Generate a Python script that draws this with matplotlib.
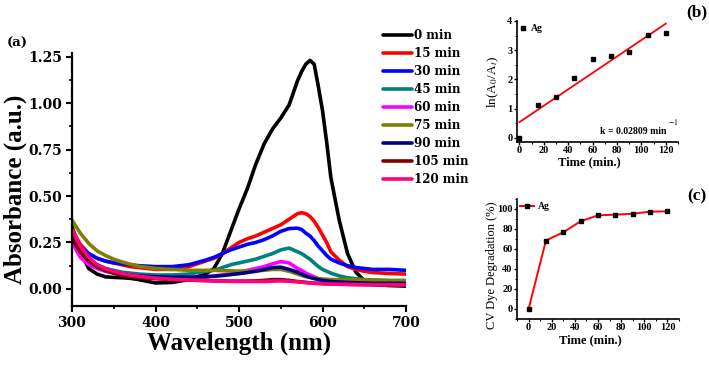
import numpy as np
import matplotlib
matplotlib.use("Agg")
import matplotlib.pyplot as plt
from matplotlib.ticker import MultipleLocator

# ==============================
# DATA
# ==============================
wavelength = [300, 310, 320, 330, 340, 350, 360, 370, 380, 400, 420, 440, 460, 470, 480,
              490, 500, 510, 520, 530, 540, 550, 560, 570, 575, 580, 585, 590, 595, 600,
              605, 610, 620, 630, 640, 650, 660, 680, 700]

abs_0 = [0.335, 0.20, 0.11, 0.08, 0.065, 0.062, 0.06, 0.057, 0.05, 0.032, 0.035, 0.05, 0.08, 0.11, 0.19,
         0.31, 0.43, 0.54, 0.67, 0.78, 0.86, 0.92, 0.99, 1.12, 1.17, 1.21, 1.23, 1.21, 1.09, 0.96,
         0.79, 0.60, 0.37, 0.19, 0.09, 0.045, 0.025, 0.018, 0.015]
abs_15 = [0.32, 0.24, 0.19, 0.165, 0.15, 0.14, 0.13, 0.12, 0.115, 0.105, 0.105, 0.12, 0.15, 0.165, 0.19,
          0.22, 0.25, 0.27, 0.285, 0.305, 0.325, 0.345, 0.375, 0.405, 0.41, 0.405, 0.39, 0.365, 0.33, 0.29,
          0.25, 0.20, 0.155, 0.12, 0.105, 0.095, 0.088, 0.083, 0.08]
abs_30 = [0.29, 0.23, 0.19, 0.165, 0.15, 0.14, 0.135, 0.13, 0.125, 0.12, 0.12, 0.13, 0.155, 0.17, 0.19,
          0.21, 0.225, 0.24, 0.25, 0.265, 0.285, 0.31, 0.325, 0.327, 0.32, 0.30, 0.285, 0.26, 0.23, 0.205,
          0.18, 0.16, 0.14, 0.125, 0.115, 0.11, 0.105, 0.105, 0.10]
abs_45 = [0.30, 0.21, 0.16, 0.13, 0.11, 0.10, 0.09, 0.085, 0.08, 0.075, 0.075, 0.08, 0.095, 0.10, 0.115,
          0.13, 0.14, 0.15, 0.16, 0.175, 0.19, 0.21, 0.22, 0.20, 0.19, 0.175, 0.16, 0.14, 0.12, 0.105,
          0.095, 0.085, 0.07, 0.06, 0.055, 0.05, 0.048, 0.045, 0.045]
abs_60 = [0.25, 0.17, 0.13, 0.11, 0.095, 0.085, 0.075, 0.07, 0.065, 0.06, 0.06, 0.06, 0.065, 0.07, 0.075,
          0.08, 0.09, 0.10, 0.11, 0.12, 0.135, 0.147, 0.14, 0.11, 0.10, 0.085, 0.075, 0.065, 0.055, 0.05,
          0.045, 0.04, 0.035, 0.032, 0.03, 0.03, 0.03, 0.03, 0.03]
abs_75 = [0.37, 0.30, 0.245, 0.205, 0.18, 0.16, 0.145, 0.133, 0.122, 0.11, 0.105, 0.10, 0.10, 0.10, 0.098,
          0.097, 0.096, 0.096, 0.097, 0.10, 0.105, 0.105, 0.095, 0.08, 0.072, 0.066, 0.062, 0.058, 0.055, 0.053,
          0.052, 0.05, 0.05, 0.05, 0.05, 0.048, 0.047, 0.045, 0.045]
abs_90 = [0.27, 0.20, 0.15, 0.12, 0.10, 0.09, 0.08, 0.075, 0.07, 0.065, 0.063, 0.063, 0.065, 0.068, 0.072,
          0.077, 0.082, 0.088, 0.095, 0.105, 0.115, 0.117, 0.105, 0.09, 0.08, 0.07, 0.062, 0.056, 0.05, 0.046,
          0.043, 0.04, 0.037, 0.035, 0.033, 0.032, 0.03, 0.03, 0.03]
abs_105 = [0.28, 0.20, 0.15, 0.12, 0.10, 0.085, 0.075, 0.068, 0.062, 0.055, 0.05, 0.047, 0.045, 0.044, 0.043,
           0.042, 0.042, 0.042, 0.043, 0.046, 0.05, 0.05, 0.046, 0.04, 0.038, 0.035, 0.033, 0.031, 0.03, 0.029,
           0.028, 0.027, 0.026, 0.025, 0.024, 0.023, 0.022, 0.02, 0.02]
abs_120 = [0.32, 0.23, 0.17, 0.13, 0.11, 0.095, 0.083, 0.075, 0.068, 0.058, 0.052, 0.048, 0.045, 0.043, 0.042,
           0.041, 0.04, 0.04, 0.04, 0.04, 0.042, 0.043, 0.041, 0.038, 0.036, 0.034, 0.032, 0.03, 0.029, 0.028,
           0.027, 0.026, 0.025, 0.024, 0.023, 0.023, 0.022, 0.022, 0.022]

series_labels = ["0 min", "15 min", "30 min", "45 min", "60 min",
                 "75 min", "90 min", "105 min", "120 min"]
series_colors = ["#000000", "#ff0000", "#0000ff", "#008080", "#ff00ff",
                 "#808000", "#000080", "#800000", "#ff0080"]
spectra = [abs_0, abs_15, abs_30, abs_45, abs_60, abs_75, abs_90, abs_105, abs_120]

time_min = [0, 15, 30, 45, 60, 75, 90, 105, 120]
ln_ratio = [0.0, 1.12, 1.41, 2.05, 2.69, 2.80, 2.94, 3.53, 3.58]
fit_time = [0, 120]
fit_ln = [0.54, 3.91]
degradation = [0.0, 68.5, 76.7, 87.7, 93.7, 94.3, 95.3, 97.3, 97.7]

# ==============================
# FIGURE
# ==============================
W, H = 709, 365
fig = plt.figure(figsize=(W / 100, H / 100), dpi=100)
plt.rcParams["mathtext.fontset"] = "stix"

serif_a = "DejaVu Serif"
serif_b = "Liberation Serif"


def px_axes(l, t, r, b):
    return fig.add_axes([l / W, 1 - b / H, (r - l) / W, (b - t) / H])


# ---------- (a) spectra ----------
ax = px_axes(72, 53, 406, 306)
for y, c, lab in zip(spectra, series_colors, series_labels):
    ax.plot(wavelength, y, color=c, lw=2.6, label=lab, solid_capstyle="round")

ax.set_xlim(300, 700)
ax.set_ylim(-0.092, 1.27)
ax.xaxis.set_major_locator(MultipleLocator(100))
ax.xaxis.set_minor_locator(MultipleLocator(50))
ax.yaxis.set_major_locator(MultipleLocator(0.25))
ax.yaxis.set_minor_locator(MultipleLocator(0.125))
ax.set_yticks([0, 0.25, 0.5, 0.75, 1.0, 1.25])
ax.set_yticklabels(["0.00", "0.25", "0.50", "0.75", "1.00", "1.25"])
for s in ["top", "right"]:
    ax.spines[s].set_visible(False)
for s in ["left", "bottom"]:
    ax.spines[s].set_linewidth(1.6)
ax.tick_params(which="major", direction="out", length=4, width=1.5, labelsize=10, pad=3)
ax.tick_params(which="minor", direction="out", length=2.5, width=1.2)
for t in ax.get_xticklabels() + ax.get_yticklabels():
    t.set_fontfamily(serif_a)
    t.set_fontweight("bold")
ax.set_xlabel("Wavelength (nm)", fontsize=18, fontweight="bold", family=serif_b)
ax.set_ylabel("Absorbance (a.u.)", fontsize=18, fontweight="bold", family=serif_b)
ax.xaxis.set_label_coords(0.5, -0.1)
ax.yaxis.set_label_coords(-0.135, 0.462)

ax.legend(loc="upper left", bbox_to_anchor=(377 / W, 1 - 23 / H), bbox_transform=fig.transFigure,
          frameon=False, borderpad=0, handlelength=2.45, handletextpad=0.15, labelspacing=0.42,
          prop={"family": serif_a, "weight": "bold", "size": 8.6})

fig.text(17 / W, 1 - 43 / H, "(a)", ha="center", va="center", fontsize=9.5,
         fontweight="bold", family=serif_a)

# ---------- (b) kinetics ----------
axb = px_axes(517, 21, 678, 142)
axb.plot(fit_time, fit_ln, color="#ff0000", lw=1.3, zorder=1)
axb.plot(time_min, ln_ratio, ls="none", marker="s", ms=3.2, color="black", label="Ag", zorder=2)
axb.set_xlim(-2, 130)
axb.set_ylim(-0.14, 4.0)
axb.xaxis.set_major_locator(MultipleLocator(20))
axb.xaxis.set_minor_locator(MultipleLocator(10))
axb.yaxis.set_major_locator(MultipleLocator(1))
axb.yaxis.set_minor_locator(MultipleLocator(0.5))
axb.set_xticks([0, 20, 40, 60, 80, 100, 120])
axb.set_yticks([0, 1, 2, 3, 4])

# ---------- (c) degradation ----------
axc = px_axes(517, 199, 679, 319)
axc.plot(time_min, degradation, color="#ff0000", lw=1.4, marker="s", ms=3.4,
         mfc="black", mec="black", label="Ag")
axc.set_xlim(-10, 130)
axc.set_ylim(-10, 110)
axc.xaxis.set_major_locator(MultipleLocator(20))
axc.xaxis.set_minor_locator(MultipleLocator(10))
axc.yaxis.set_major_locator(MultipleLocator(20))
axc.yaxis.set_minor_locator(MultipleLocator(10))
axc.set_xticks([0, 20, 40, 60, 80, 100, 120])
axc.set_yticks([0, 20, 40, 60, 80, 100])

for a in (axb, axc):
    for s in ["top", "right"]:
        a.spines[s].set_visible(False)
    for s in ["left", "bottom"]:
        a.spines[s].set_linewidth(1.2)
    a.tick_params(which="major", direction="out", length=2.2, width=1.0, labelsize=7.5, pad=1)
    a.tick_params(which="minor", direction="out", length=1.4, width=0.8)
    for t in a.get_xticklabels() + a.get_yticklabels():
        t.set_fontfamily(serif_b)
        t.set_fontweight("bold")
    a.set_xlabel("Time (min.)", fontsize=9, fontweight="bold", family=serif_b)
    a.legend(loc="upper left", frameon=False, borderaxespad=0.2, handlelength=1.4 if a is axc else 0.6,
             handletextpad=0.5, borderpad=0.1, prop={"family": serif_b, "weight": "bold", "size": 7})

axb.set_ylabel(r"ln(A$_0$/A$_t$)", fontsize=9.5, family=serif_b)
axb.xaxis.set_label_coords(0.45, -0.12)
axb.yaxis.set_label_coords(-0.1, 0.5)
axb.text(0.93, 0.085, "k = 0.02809 min", transform=axb.transAxes, ha="right", va="center",
         fontsize=7, fontweight="bold", family=serif_b)
axb.text(0.935, 0.14, r"$^{-1}$", transform=axb.transAxes, ha="left", va="center", fontsize=8)

axc.set_ylabel("CV Dye Degradation (%)", fontsize=9, family=serif_b)
axc.xaxis.set_label_coords(0.45, -0.13)
axc.yaxis.set_label_coords(-0.12, 0.45)

fig.text(697 / W, 1 - 12 / H, "(b)", ha="center", va="center", fontsize=12.5,
         fontweight="bold", family=serif_b)
fig.text(697 / W, 1 - 196 / H, "(c)", ha="center", va="center", fontsize=12.5,
         fontweight="bold", family=serif_b)

fig.savefig("out.png", dpi=100)
